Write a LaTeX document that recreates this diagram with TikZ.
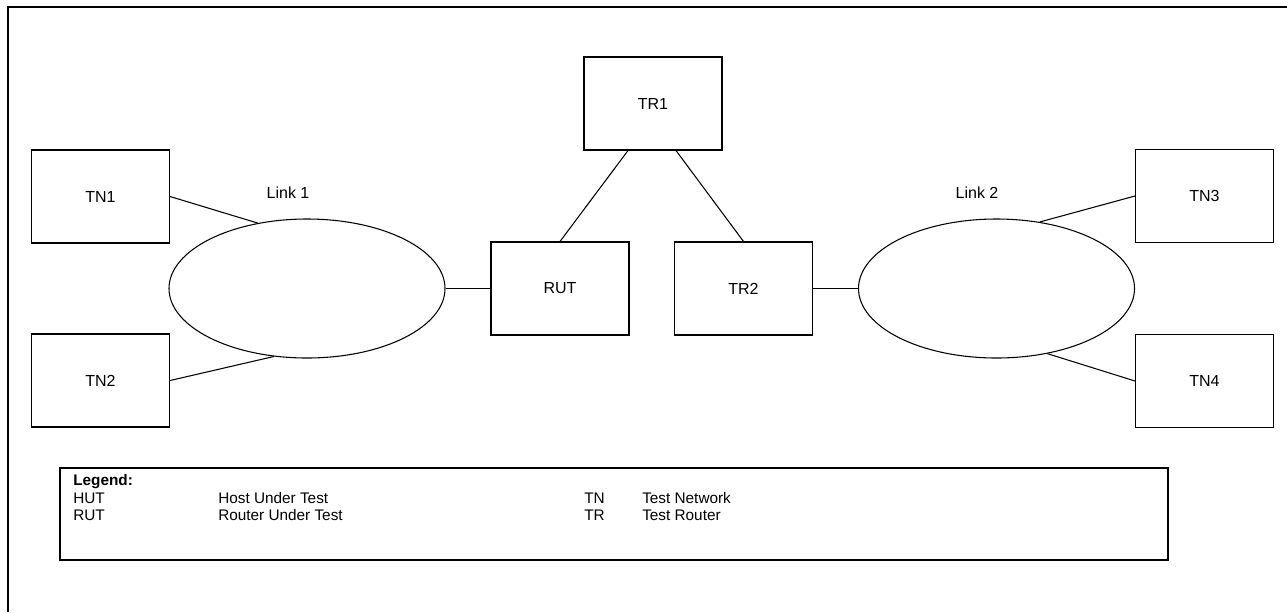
\documentclass[tikz,border=0pt]{standalone}
\usepackage{fontspec}
\setmainfont{Liberation Sans}
\usetikzlibrary{shapes.geometric}
\begin{document}
\begin{tikzpicture}[x=0.75pt,y=-0.75pt,
  box/.style={draw,line width=0.8pt,minimum width=103.5pt,minimum height=69.75pt,inner sep=0pt,font=\fontsize{12}{14}\selectfont},
  net/.style={draw,ellipse,line width=0.8pt,minimum width=207pt,minimum height=104.25pt,inner sep=0pt},
  lbl/.style={inner sep=0pt,font=\fontsize{12}{14}\selectfont},
  lgd/.style={anchor=base west,inner sep=0pt,font=\fontsize{11.5}{13}\selectfont}]
  \useasboundingbox (0,0) rectangle (1287,612);
  \draw[line width=1.8pt] (8,612) -- (8,7) -- (1287,7);
  % links
  \node[net] (link1) at (307,288.5) {};
  \node[net] (link2) at (996.5,288.5) {};
  \node[lbl] (lbl1) at (288,193) {Link 1};
  \node[lbl] (lbl2) at (977,193) {Link 2};
  % nodes
  \node[box] (tn1) at (100.5,196.5) {TN1};
  \node[box] (tn2) at (100.5,380.5) {TN2};
  \node[box] (rut) at (560,288.5) {RUT};
  \node[box] (tr1) at (653,103.5) {TR1};
  \node[box] (tr2) at (743.5,288.5) {TR2};
  \node[box] (tn3) at (1204.5,196) {TN3};
  \node[box] (tn4) at (1204.5,381) {TN4};
  % connectors
  \draw[line width=0.8pt] (tn1.east) -- (link1.127);
  \draw[line width=0.8pt] (tn2.east) -- (link1.244);
  \draw[line width=0.8pt] (link1.east) -- (rut.west);
  \draw[line width=0.8pt] (rut.north) -- ([xshift=-18.75pt]tr1.south);
  \draw[line width=0.8pt] ([xshift=17.25pt]tr1.south) -- (tr2.north);
  \draw[line width=0.8pt] (tr2.east) -- (link2.west);
  \draw[line width=0.8pt] (link2.57) -- (tn3.west);
  \draw[line width=0.8pt] (link2.-52) -- (tn4.west);
  % legend
  \draw[line width=1.8pt] (60,468) rectangle (1168,560);
  \node[lgd] (lgdhead) at (73,485) {\bfseries Legend:};
  \node[lgd] (hut) at (73,503) {HUT};
  \node[lgd] (hutd) at (218,503) {Host Under Test};
  \node[lgd] (rutk) at (73,520) {RUT};
  \node[lgd] (rutd) at (218,520) {Router Under Test};
  \node[lgd] (tnk) at (584,503) {TN};
  \node[lgd] (tnd) at (642,503) {Test Network};
  \node[lgd] (trk) at (584,520) {TR};
  \node[lgd] (trd) at (642,520) {Test Router};
\end{tikzpicture}
\end{document}
